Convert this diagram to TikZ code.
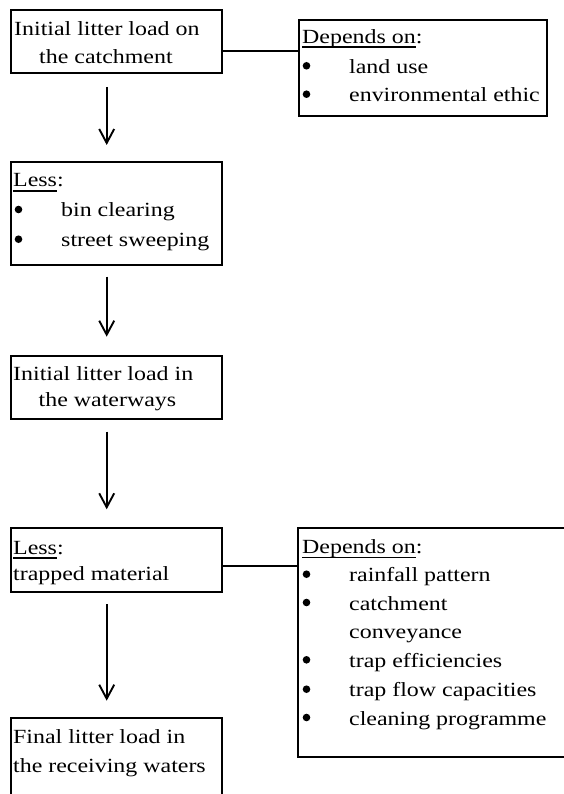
\documentclass[tikz,border=0pt]{standalone}
\usepackage{fontspec}
\setmainfont{Liberation Serif}[FakeStretch=1.19]
\usetikzlibrary{arrows.meta}
\newcommand\ulword[1]{\sbox0{#1}\rlap{\rule[-4.6pt]{\wd0}{1.4pt}}\usebox0}
\begin{document}
\begin{tikzpicture}[x=1pt,y=-1pt,
  boxn/.style={draw, line width=1.8pt, inner sep=0pt, rectangle},
  txt/.style={anchor=base west, inner sep=0pt, font=\fontsize{20.1pt}{24pt}\selectfont},
  bul/.style={circle, fill, inner sep=0pt, minimum size=7.6pt},
  link/.style={line width=1.6pt},
  arr/.style={line width=1.6pt, -{Straight Barb[length=14pt,width=15pt,line width=1.9pt]}}]
\useasboundingbox (0,0) rectangle (564,794);
% boxes
\node[boxn, minimum width=211.3pt, minimum height=63pt] (b1) at (116.35,41.5) {};
\node[boxn, minimum width=248.3pt, minimum height=96pt] (d1) at (423.15,68) {};
\node[boxn, minimum width=211.3pt, minimum height=103.3pt] (b2) at (116.35,213.35) {};
\node[boxn, minimum width=211.3pt, minimum height=63pt] (b3) at (116.35,387.5) {};
\node[boxn, minimum width=211.3pt, minimum height=64.6pt] (b4) at (116.35,560) {};
\node[boxn, minimum width=211.3pt, minimum height=111.7pt] (b5) at (116.35,774.15) {};
\node[boxn, minimum width=301.7pt, minimum height=229pt] (d2) at (449.15,642.5) {};
% connectors
\coordinate (h1) at (0,51);
\coordinate (h2) at (0,566);
\draw[link] (b1.east |- h1) -- (d1.west |- h1);
\draw[link] (b4.east |- h2) -- (d2.west |- h2);
\coordinate (a1s) at (106.7,87);   \coordinate (a1e) at (106.7,145);
\coordinate (a2s) at (106.7,276.7); \coordinate (a2e) at (106.7,336.7);
\coordinate (a3s) at (106.7,431.7); \coordinate (a3e) at (106.7,509.3);
\coordinate (a4s) at (106.7,604);  \coordinate (a4e) at (106.7,700.7);
\draw[arr] (a1s) -- (a1e);
\draw[arr] (a2s) -- (a2e);
\draw[arr] (a3s) -- (a3e);
\draw[arr] (a4s) -- (a4e);
% box 1
\node[txt] (t1a) at (14,36) {Initial litter load on};
\node[txt] (t1b) at (39,63.3) {the catchment};
% box 2
\node[txt] (t2a) at (13,187) {\ulword{Less}:};
\node[bul] (t2b) at (18.5,209.5) {};
\node[txt] (t2c) at (61,217) {bin clearing};
\node[bul] (t2d) at (18.5,239.2) {};
\node[txt] (t2e) at (61,246.7) {street sweeping};
% box 3
\node[txt] (t3a) at (13,380) {Initial litter load in};
\node[txt] (t3b) at (38.5,406.7) {the waterways};
% box 4
\node[txt] (t4a) at (13,554) {\ulword{Less}:};
\node[txt] (t4b) at (13,580.7) {trapped material};
% box 5
\node[txt] (t5a) at (13,743.3) {Final litter load in};
\node[txt] (t5b) at (13,772.7) {the receiving waters};
% depends 1
\node[txt] (u1a) at (302,43.3) {\ulword{Depends on}:};
\node[bul] (u1b) at (306.5,65.8) {};
\node[txt] (u1c) at (349,73.3) {land use};
\node[bul] (u1d) at (306.5,94.2) {};
\node[txt] (u1e) at (349,101.7) {environmental ethic};
% depends 2
\node[txt] (u2a) at (302,553.3) {\ulword{Depends on}:};
\node[bul] (u2b) at (306.5,574.2) {};
\node[txt] (u2c) at (349,581.7) {rainfall pattern};
\node[bul] (u2d) at (306.5,602.5) {};
\node[txt] (u2e) at (349,610) {catchment};
\node[txt] (u2f) at (349,638.3) {conveyance};
\node[bul] (u2g) at (306.5,659.8) {};
\node[txt] (u2h) at (349,667.3) {trap efficiencies};
\node[bul] (u2i) at (306.5,689.2) {};
\node[txt] (u2j) at (349,696.7) {trap flow capacities};
\node[bul] (u2k) at (306.5,717.5) {};
\node[txt] (u2l) at (349,725) {cleaning programme};
\end{tikzpicture}
\end{document}
